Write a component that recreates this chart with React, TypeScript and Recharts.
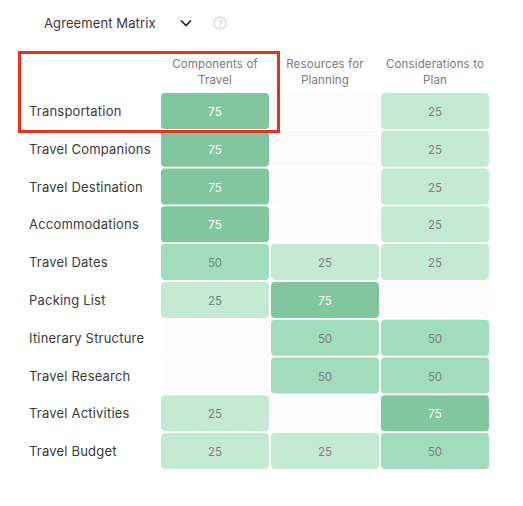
import React from "react";
import { ScatterChart, Scatter, XAxis, YAxis } from "recharts";

const rowLabels = [
  "Transportation",
  "Travel Companions",
  "Travel Destination",
  "Accommodations",
  "Travel Dates",
  "Packing List",
  "Itinerary Structure",
  "Travel Research",
  "Travel Activities",
  "Travel Budget",
];
const columnLabels = [
  ["Components of", "Travel"],
  ["Resources for", "Planning"],
  ["Considerations to", "Plan"],
];
const componentsOfTravel = [75, 75, 75, 75, 50, 25, 0, 0, 25, 25];
const resourcesForPlanning = [0, 0, 0, 0, 25, 75, 50, 50, 0, 25];
const considerationsToPlan = [25, 25, 25, 25, 25, 0, 50, 50, 75, 50];
const columns = [componentsOfTravel, resourcesForPlanning, considerationsToPlan];

const cells = columns.flatMap((values, c) =>
  values.map((value, r) => ({ x: c + 0.5, y: r + 0.5, value }))
);
const xTicks = columnLabels.map((_, i) => i + 0.5);
const yTicks = rowLabels.map((_, i) => i + 0.5);

const FONT = "Inter, 'Noto Sans', sans-serif";
const fills: Record<number, string> = { 0: "#fbfbfb", 25: "#c5ead4", 50: "#a1dcbc", 75: "#81c69e" };

function CellShape(props: any) {
  const { cx, cy, payload } = props;
  const v = payload.value;
  return (
    <g>
      <rect x={cx - 54} y={cy - 18} width={108} height={36} rx={4} fill={fills[v]} />
      {v > 0 && (
        <text x={cx} y={cy} dy={5} textAnchor="middle" fontFamily={FONT} fontSize={11.5} fill={v === 75 ? "#ffffff" : "#7d7d7d"}>
          {v}
        </text>
      )}
    </g>
  );
}

function ColumnTick(props: any) {
  const { x, payload } = props;
  const lines = columnLabels[Math.floor(payload.value)];
  return (
    <text textAnchor="middle" fontFamily={FONT} fontSize={11.5} letterSpacing={0.15} fill="#7a7a7a">
      {lines.map((l, i) => (
        <tspan key={i} x={x} y={67.5 + i * 16.5}>{l}</tspan>
      ))}
    </text>
  );
}

function RowTick(props: any) {
  const { y, payload } = props;
  return (
    <text x={29} y={y} dy={5} textAnchor="start" fontFamily={FONT} fontSize={13} letterSpacing={0.2} fill="#3a3a3a">
      {rowLabels[Math.floor(payload.value)]}
    </text>
  );
}

export default function App() {
  return (
    <div style={{ position: "absolute", left: 0, top: 0, width: 523, height: 506, background: "#fff", overflow: "hidden" }}>
      <ScatterChart width={523} height={506} margin={{ top: 0, right: 33, bottom: 36, left: 0 }}>
        <XAxis
          type="number"
          dataKey="x"
          orientation="top"
          domain={[0, 3]}
          ticks={xTicks}
          interval={0}
          height={92}
          axisLine={false}
          tickLine={false}
          tick={<ColumnTick />}
        />
        <YAxis
          type="number"
          dataKey="y"
          domain={[0, 10]}
          reversed
          ticks={yTicks}
          interval={0}
          width={160}
          axisLine={false}
          tickLine={false}
          tick={<RowTick />}
        />
        <Scatter data={cells} isAnimationActive={false} shape={<CellShape />} />
      </ScatterChart>
      <div style={{ position: "absolute", left: 44, top: 14, fontFamily: FONT, fontSize: 13, letterSpacing: 0.1, lineHeight: "18px", color: "#3a3a3a" }}>
        Agreement Matrix
      </div>
      <svg style={{ position: "absolute", left: 177, top: 15 }} width={50} height={16}>
        <path d="M4 5.5 L9 10.5 L14 5.5" fill="none" stroke="#222" strokeWidth={1.7} />
        <circle cx={43} cy={8} r={6} fill="none" stroke="#dcdcdc" strokeWidth={1.5} />
        <text x={43} y={11.5} textAnchor="middle" fontFamily={FONT} fontSize={9.5} fill="#d0d0d0">?</text>
      </svg>
      <div style={{ position: "absolute", left: 18, top: 51, width: 256, height: 76, border: "3px solid #e8311a", boxSizing: "content-box" }} />
    </div>
  );
}
